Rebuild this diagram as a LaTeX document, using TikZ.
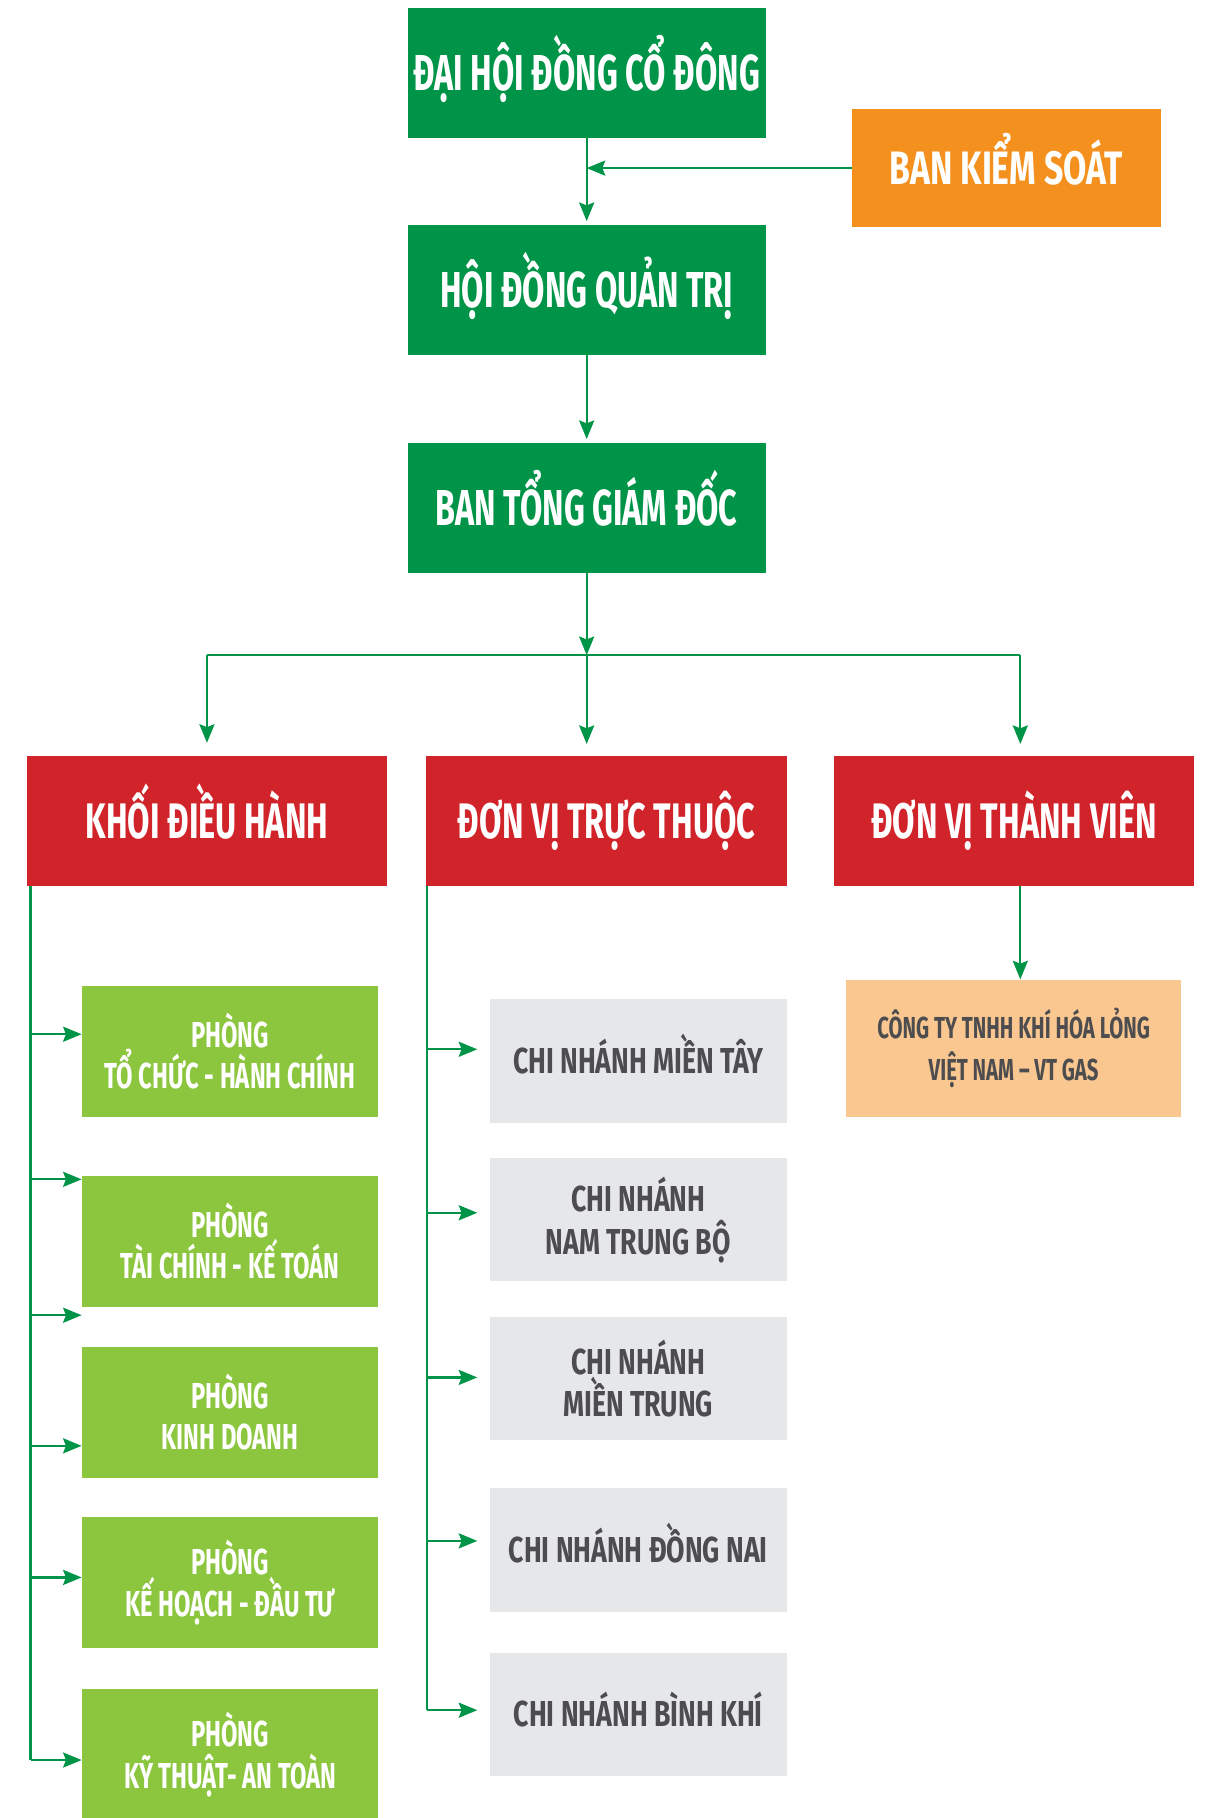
\documentclass[tikz,border=0pt]{standalone}
\usepackage{fontspec}
\setmainfont{Fira Sans}[FakeStretch=0.64]
\newfontfamily\ksfont{Fira Sans}[FakeStretch=0.72]
\newfontfamily\redfont{Fira Sans}[FakeStretch=0.65]
\newfontfamily\phfont{Fira Sans}[FakeStretch=0.66]
\newfontfamily\cnfont{Fira Sans}[FakeStretch=0.74]
\newfontfamily\ctfont{Fira Sans}[FakeStretch=0.67]
\usepackage{xcolor}
\usepackage{tikz}
\usetikzlibrary{positioning,arrows.meta}
\definecolor{dgreen}{HTML}{009448}
\definecolor{lgreen}{HTML}{8CC63F}
\definecolor{dred}{HTML}{D1232A}
\definecolor{dorange}{HTML}{F4911E}
\definecolor{peach}{HTML}{F9C78F}
\definecolor{lgrey}{HTML}{E6E7E8}
\definecolor{dgrey}{HTML}{4D4D4F}

\begin{document}
\begin{tikzpicture}[
        node distance=3.75cm,
        every node/.style={
            align=center,
            inner sep=0pt,
            anchor=center
        },
        topbox/.style={
            rectangle,
            fill=dgreen,
            text=white,
            minimum width=6.18cm,
            minimum height=2.24cm,
            text height=17.1pt,
            text depth=0pt,
            font=\bfseries\fontsize{24.8}{28}\selectfont
        },
        ksbox/.style={
            rectangle,
            fill=dorange,
            text=white,
            minimum width=5.32cm,
            minimum height=2.04cm,
            text height=15.8pt,
            text depth=0pt,
            font=\ksfont\bfseries\fontsize{23}{26}\selectfont
        },
        redbox/.style={
            rectangle,
            fill=dred,
            text=white,
            minimum width=6.22cm,
            minimum height=2.24cm,
            text height=16.9pt,
            text depth=0pt,
            font=\redfont\bfseries\fontsize{24.5}{28}\selectfont
        },
        phongbox/.style={
            rectangle,
            fill=lgreen,
            text=white,
            minimum width=5.11cm,
            minimum height=2.26cm,
            font=\phfont\bfseries\fontsize{17.7}{20.4}\selectfont
        },
        cnbox/.style={
            rectangle,
            fill=lgrey,
            text=dgrey,
            minimum width=5.12cm,
            minimum height=2.13cm,
            font=\cnfont\bfseries\fontsize{17.7}{21}\selectfont
        },
        oneline/.style={
            text height=12.2pt,
            text depth=0pt
        },
        ctbox/.style={
            rectangle,
            fill=peach,
            text=dgrey,
            minimum width=5.77cm,
            minimum height=2.36cm,
            font=\ctfont\bfseries\fontsize{14.9}{20.7}\selectfont
        },
        line/.style={
            line width=1.1pt,
            color=dgreen
        },
        arrow/.style={
            ->,
            >={Stealth[length=3.2mm,width=2.6mm,inset=0.5mm]},
            line width=1.1pt,
            color=dgreen
        }
    ]
        \path[use as bounding box, fill=white] (0,0) rectangle (20.92,-31.36);

        % Top levels
        \node[topbox] (dhdcd) at (10.12,-1.26) {ĐẠI HỘI ĐỒNG CỔ ĐÔNG};
        \node[ksbox] (bks) at (17.36,-2.90) {BAN KIỂM SOÁT};
        \node[topbox] (hdqt) [below of=dhdcd, node distance=3.74cm] {HỘI ĐỒNG QUẢN TRỊ};
        \node[topbox] (btgd) [below of=hdqt, node distance=3.76cm] {BAN TỔNG GIÁM ĐỐC};

        % Blocks
        \node[redbox] (kdh) at (3.57,-14.16) {KHỐI ĐIỀU HÀNH};
        \node[redbox] (dvtt) [right of=kdh, node distance=6.89cm] {ĐƠN VỊ TRỰC THUỘC};
        \node[redbox] (dvtv) [right of=dvtt, node distance=7.03cm] {ĐƠN VỊ THÀNH VIÊN};

        % Column 1
        \node[phongbox] (pb1) at (3.97,-18.13) {PHÒNG\\TỔ CHỨC - HÀNH CHÍNH};
        \node[phongbox] (pb2) [below of=pb1, node distance=3.28cm] {PHÒNG\\TÀI CHÍNH - KẾ TOÁN};
        \node[phongbox] (pb3) [below of=pb2, node distance=2.95cm] {PHÒNG\\KINH DOANH};
        \node[phongbox] (pb4) [below of=pb3, node distance=2.94cm] {PHÒNG\\KẾ HOẠCH - ĐẦU TƯ};
        \node[phongbox] (pb5) [below of=pb4, node distance=2.97cm] {PHÒNG\\KỸ THUẬT- AN TOÀN};

        % Column 2
        \node[cnbox, oneline] (cn1) at (11.01,-18.30) {CHI NHÁNH MIỀN TÂY};
        \node[cnbox] (cn2) [below of=cn1, node distance=2.74cm] {CHI NHÁNH\\NAM TRUNG BỘ};
        \node[cnbox] (cn3) [below of=cn2, node distance=2.74cm] {CHI NHÁNH\\MIỀN TRUNG};
        \node[cnbox, oneline] (cn4) [below of=cn3, node distance=2.96cm] {CHI NHÁNH ĐỒNG NAI};
        \node[cnbox, oneline] (cn5) [below of=cn4, node distance=2.83cm] {CHI NHÁNH BÌNH KHÍ};

        % Column 3
        \node[ctbox] (vtgas) at (17.485,-18.08) {CÔNG TY TNHH KHÍ HÓA LỎNG\\VIỆT NAM – VT GAS};

        % Edges top
        \draw[arrow, shorten >=0.06cm] (dhdcd) -- (hdqt);
        \draw[arrow] (bks.west) -- (bks.west -| dhdcd);
        \draw[arrow, shorten >=0.06cm] (hdqt) -- (btgd);

        \coordinate (split) at (10.12,-11.30);
        \coordinate (lsplit) at (3.57,-11.30);
        \coordinate (rsplit) at (17.60,-11.30);
        \draw[arrow] (btgd) -- (split);
        \draw[line] (lsplit) -- (rsplit);
        \draw[arrow, shorten >=0.22cm] (lsplit) -- (lsplit |- kdh.north);
        \draw[arrow, shorten >=0.2cm] (split) -- (split |- dvtt.north);
        \draw[arrow, shorten >=0.2cm] (rsplit) -- (rsplit |- dvtv.north);

        % Edges col 1
        \coordinate (lbus) at ([xshift=0.075cm]kdh.south west);
        \coordinate (a1) at ([yshift=0.29cm]pb1.west);
        \coordinate (a2) at ([yshift=-0.07cm]pb2.north west);
        \coordinate (a3) at ([yshift=-0.14cm]pb2.south west);
        \coordinate (a4) at ([yshift=-0.58cm]pb3.west);
        \coordinate (a5) at ([yshift=0.09cm]pb4.west);
        \coordinate (a6) at ([yshift=-0.09cm]pb5.west);
        \draw[line] (lbus) -- (a6 -| lbus);
        \draw[arrow] (a1 -| lbus) -- (a1);
        \draw[arrow] (a2 -| lbus) -- (a2);
        \draw[arrow] (a3 -| lbus) -- (a3);
        \draw[arrow] (a4 -| lbus) -- (a4);
        \draw[arrow] (a5 -| lbus) -- (a5);
        \draw[arrow] (a6 -| lbus) -- (a6);

        % Edges col 2
        \coordinate (mbus) at ([xshift=0.02cm]dvtt.south west);
        \coordinate (b1) at ([yshift=0.2cm]cn1.west);
        \coordinate (b2) at ([yshift=0.12cm]cn2.west);
        \coordinate (b3) at ([yshift=0.02cm]cn3.west);
        \coordinate (b4) at ([yshift=0.16cm]cn4.west);
        \coordinate (b5) at ([yshift=0.07cm]cn5.west);
        \draw[line] (mbus) -- (b5 -| mbus);
        \draw[arrow, shorten >=0.21cm] (b1 -| mbus) -- (b1);
        \draw[arrow, shorten >=0.21cm] (b2 -| mbus) -- (b2);
        \draw[arrow, shorten >=0.21cm] (b3 -| mbus) -- (b3);
        \draw[arrow, shorten >=0.21cm] (b4 -| mbus) -- (b4);
        \draw[arrow, shorten >=0.21cm] (b5 -| mbus) -- (b5);

        % Edge col 3
        \coordinate (c1) at ([xshift=0.11cm]dvtv.south);
        \draw[arrow] (c1) -- (c1 |- vtgas.north);

    \end{tikzpicture}
\end{document}
